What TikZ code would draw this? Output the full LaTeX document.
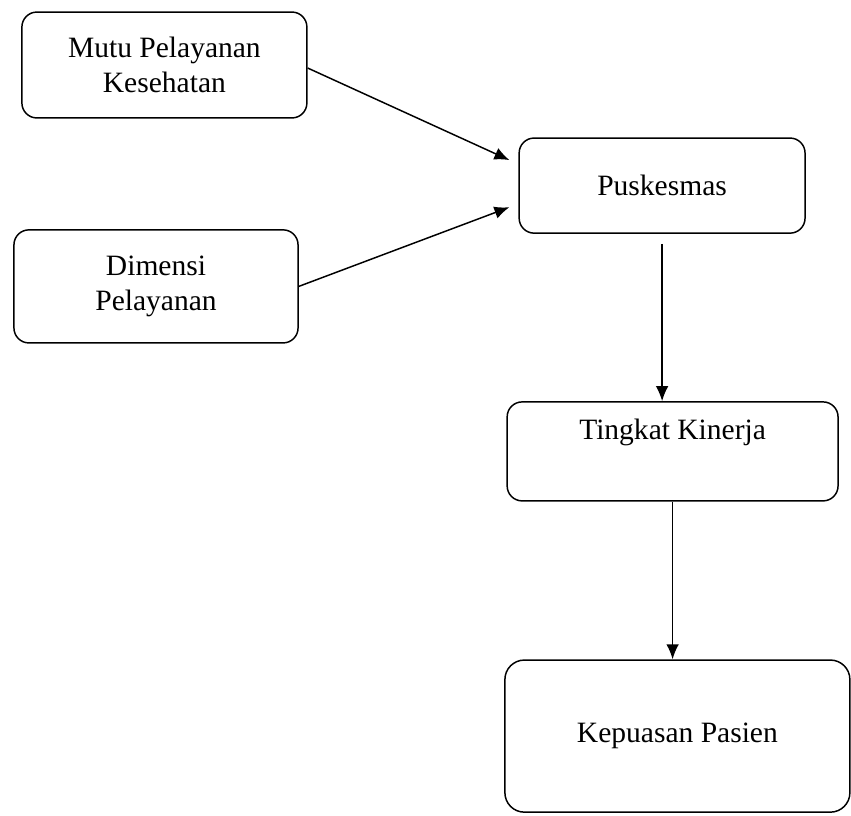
\documentclass[tikz,border=0pt]{standalone}
\usepackage{fontspec}
\setmainfont{Liberation Serif}
\usetikzlibrary{arrows.meta,calc,positioning}

\tikzset{
    kotak/.style={draw, line width=1.4pt, rounded corners=0.5cm, align=center},
    panah/.style={line width=1.4pt, -{Latex[length=0.5cm, width=0.42cm]}}
}

\begin{document}
\begin{tikzpicture}[font=\fontsize{28}{33}\selectfont]

% Canvas
\useasboundingbox (0, 0) rectangle (28.367, 27.167);

% Boxes
\node[kotak, minimum width=9.5cm, minimum height=3.53cm] (mutu) at (5.48, 25.0) {Mutu Pelayanan\\Kesehatan};
\node[kotak, minimum width=9.47cm, minimum height=3.77cm] (dimensi) at (5.2, 17.62) {Dimensi\\Pelayanan};
\node[kotak, minimum width=9.53cm, minimum height=3.17cm] (puskesmas) at (22.07, 20.98) {Puskesmas};
\node[kotak, minimum width=11.03cm, minimum height=3.3cm,
      label={[name=kinerjateks, anchor=center, yshift=-1.03cm]north:Tingkat Kinerja}] (kinerja) at (22.42, 12.12) {};
\node[kotak, rounded corners=0.65cm, minimum width=11.5cm, minimum height=5.07cm] (kepuasan) at (22.58, 2.63) {Kepuasan Pasien};

% Arrow ends in front of Puskesmas
\coordinate (masuk1) at ($(puskesmas.west)+(-0.3, 0.85)$);
\coordinate (masuk2) at ($(puskesmas.west)+(-0.3, -0.72)$);

% Connectors
\draw[panah] ($(mutu.east)+(0, -0.1)$) -- (masuk1);
\draw[panah] (dimensi.east) -- (masuk2);
\draw[panah, shorten <=0.33cm] (puskesmas.south) -- (puskesmas.south |- kinerja.north);
\draw[panah] (kinerja.south) -- (kinerja.south |- kepuasan.north);

\end{tikzpicture}
\end{document}
